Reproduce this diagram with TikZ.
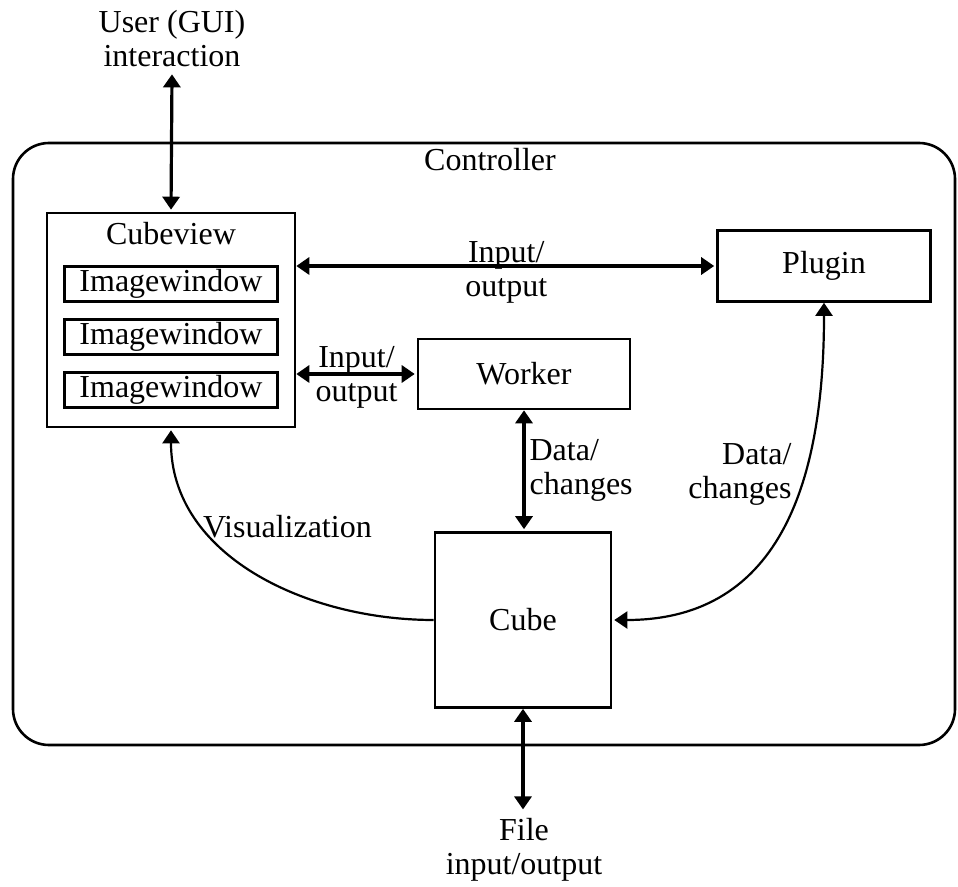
\documentclass[tikz,border=0pt]{standalone}
\usepackage{fontspec}
\setmainfont{Liberation Serif}
\usetikzlibrary{arrows.meta,positioning}

\begin{document}
\begin{tikzpicture}[x=0.5pt,y=-0.5pt,>={Triangle[length=6.5pt,width=8.5pt]},shorten >=1pt,
  font=\fontsize{16}{17}\selectfont,
  box/.style={draw,line width=1.3pt,inner sep=0pt},
  flow/.style={<->,line width=1.6pt},
  curved/.style={line width=1.1pt}]

                \useasboundingbox (0,0) rectangle (958,887);

                \node[box,rounded corners=18pt,minimum width=471pt,minimum height=301pt] (controller) at (484,444) {};
                \node (ctrltitle) at (490,160) {Controller};

                \node[box,minimum width=124pt,minimum height=107pt] (cubeview) at (171,320) {};
                \node (cvtitle) at (171,234) {Cubeview};
                \node[box,minimum width=106.5pt,minimum height=17.5pt] (iw1) at (171,284) {Imagewindow};
                \node[box,minimum width=106.5pt,minimum height=17.5pt] (iw2) at (171,337) {Imagewindow};
                \node[box,minimum width=106.5pt,minimum height=17.5pt] (iw3) at (171,390) {Imagewindow};

                \node[box,minimum width=106.5pt,minimum height=35.5pt] (plugin) at (824,266) {Plugin};
                \node[box,minimum width=106pt,minimum height=35pt] (worker) at (524,374) {Worker};
                \node[box,minimum width=88pt,minimum height=87.5pt] (cube) at (523,620) {Cube};

                \node[align=center] (user) at (172,39) {User (GUI)\\interaction};
                \node[align=center] (file) at (524,850) {File\\input/output};

                

                \path[flow] (cubeview.east |- plugin.west) edge node[align=center,yshift=-3pt] {Input/\\output} (plugin.west)
                            (cubeview.east |- worker.west) edge node[align=center,yshift=-1.5pt] {Input/\\output} (worker.west)
                            (worker.south) edge node[right,align=left,inner sep=2pt] {Data/\\changes} (worker.south |- cube.north)
                            (user.south) edge (cubeview.north)
                            (cube.south) edge (cube.south |- file.north);

                \draw[curved,->] (cube.west) to[out=180,in=-90] node[pos=.68,anchor=west,inner sep=0pt,xshift=-3pt,yshift=2pt] {Visualization} (cubeview.south);

                \draw[curved,<->] (plugin.south) to[out=-90,in=0,looseness=1.15] node[pos=.365,anchor=east,align=right,inner sep=2pt,xshift=-3.5pt] {Data/\\changes} (cube.east);

            \end{tikzpicture}
\end{document}
